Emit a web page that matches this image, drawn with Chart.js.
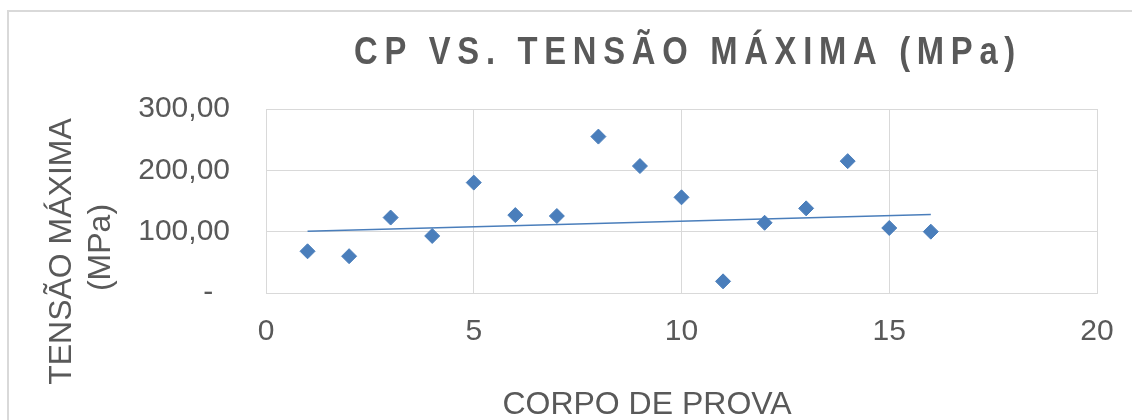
<!DOCTYPE html>
<html>
<head>
<meta charset="utf-8">
<title>CP vs. Tensão Máxima</title>
<script src="https://cdn.jsdelivr.net/npm/chart.js@4/dist/chart.umd.min.js"></script>
<style>
	html, body { margin:0; padding:0; background:#fff; }
	canvas { display:block; }
</style>
</head>
<body>
<canvas id="chart" width="1132" height="420"></canvas>
<script>
// valores
var corpoDeProva = [1, 2, 3, 4, 5, 6, 7, 8, 9, 10, 11, 12, 13, 14, 15, 16];
var tensaoMaxima = [68, 60, 123, 93, 180, 127, 125.5, 255, 207, 156, 19, 114.5, 138, 215, 106, 100];

// linha de tendência (extremos)
var tendenciaX = [1, 16];
var tendenciaY = [100.7, 128];

var eixoX = { min:0, max:20, passo:5 };
var eixoY = { min:0, max:300, passo:100 };

var titulo = 'CP VS. TENSÃO MÁXIMA (MPa)';
var tituloY = ['TENSÃO MÁXIMA', '(MPa)'];
var tituloX = 'CORPO DE PROVA';

var cinza = '#595959';
var azul = '#4a7ebb';
var grade = '#d9d9d9';

var pontos = corpoDeProva.map(function(x, i){ return { x:x, y:tensaoMaxima[i] }; });
var tendencia = tendenciaX.map(function(x, i){ return { x:x, y:tendenciaY[i] }; });

var textos =
	{
		id:'textos',
		beforeDraw:function(chart)
		{
			var ctx = chart.ctx;
			ctx.save();
			ctx.strokeStyle = grade;
			ctx.lineWidth = 2;
			ctx.strokeRect(8, 11, chart.width + 40, chart.height + 40);
			ctx.restore();
		},
		afterDraw:function(chart)
		{
			var ctx = chart.ctx;
			ctx.save();
			ctx.fillStyle = cinza;

			// título principal: fonte estreita simulada + espaçamento
			ctx.save();
			ctx.translate(688, 64);
			ctx.scale(0.84, 1);
			ctx.font = "bold 39px 'Liberation Sans', Arial, sans-serif";
			ctx.letterSpacing = '8px';
			ctx.textAlign = 'center';
			ctx.textBaseline = 'alphabetic';
			ctx.fillText(titulo, 0, 0);
			ctx.restore();

			ctx.textAlign = 'center';
			ctx.textBaseline = 'alphabetic';

			// título do eixo X
			ctx.font = "32px 'Liberation Sans', Arial, sans-serif";
			ctx.fillText(tituloX, 647, 414);

			// título do eixo Y (duas linhas, girado)
			var linhas = [ { x:71, y:251.5 }, { x:110, y:247.5 } ];
			tituloY.forEach
			(
				function(t, i)
				{
					ctx.save();
					ctx.translate(linhas[i].x, linhas[i].y);
					ctx.rotate(-Math.PI / 2);
					ctx.fillText(t, 0, 0);
					ctx.restore();
				}
			);
			ctx.restore();
		}
	};

Chart.defaults.font.family = "'Liberation Sans', Arial, sans-serif";
Chart.defaults.color = cinza;

new Chart
(
	document.getElementById('chart').getContext('2d'),
	{
		type:'scatter',
		data:{
			datasets:[
				{
					label:'Tensão máxima',
					data:pontos,
					pointStyle:'rectRot',
					pointRadius:7.5,
					pointBackgroundColor:azul,
					pointBorderColor:azul,
					pointBorderWidth:1,
					order:2
				},
				{
					label:'Tendência',
					type:'line',
					data:tendencia,
					borderColor:azul,
					borderWidth:1.5,
					pointRadius:0,
					fill:false,
					order:1
				}
			]
		},
		options:{
			responsive:false,
			animation:false,
			layout:{ padding:{ top:109, right:35, left:0, bottom:0 } },
			plugins:{
				legend:{ display:false },
				title:{ display:false },
				tooltip:{ enabled:false }
			},
			scales:{
				x:{
					type:'linear',
					min:eixoX.min,
					max:eixoX.max,
					afterFit:function(scale)
					{
						scale.height = 127;
						scale.paddingLeft = 0;
						scale.paddingRight = 0;
					},
					ticks:{ stepSize:eixoX.passo, padding:21, color:cinza, font:{ size:30 } },
					grid:{ color:grade, drawTicks:false },
					border:{ color:grade }
				},
				y:{
					min:eixoY.min,
					max:eixoY.max,
					afterFit:function(scale){ scale.width = 266; },
					ticks:{
						stepSize:eixoY.passo,
						padding:36,
						color:cinza,
						font:{ size:30 },
						callback:function(v)
						{
							if( v === 0 ) return '-  ';
							return v.toFixed(2).replace('.', ',');
						}
					},
					grid:{ color:grade, drawTicks:false },
					border:{ color:grade }
				}
			}
		},
		plugins:[textos]
	}
);
</script>
</body>
</html>
